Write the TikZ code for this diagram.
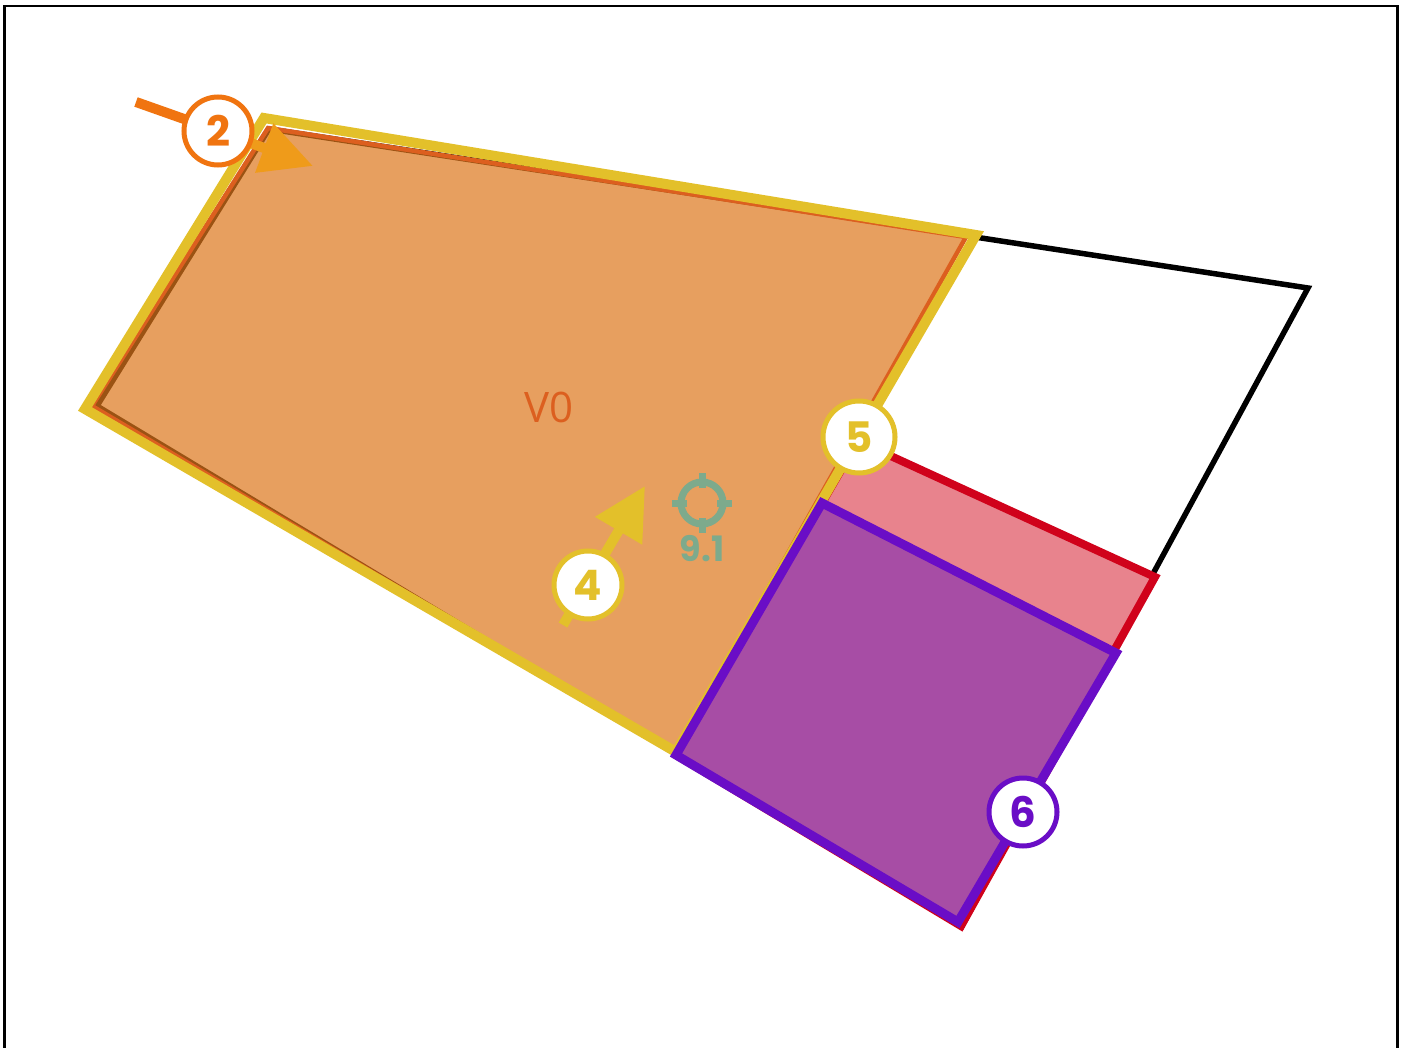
\documentclass[tikz,border=0pt]{standalone}
\usepackage{fontspec}
\setmainfont{Open Sans}
\newfontfamily\badgefont{Poppins}[UprightFont=* SemiBold, BoldFont=* Bold]
\usetikzlibrary{arrows.meta}
\definecolor{ylw}{HTML}{E3C02A}
\definecolor{orstroke}{HTML}{DC5F1F}
\definecolor{orfill}{HTML}{DE771C}
\definecolor{pinkfill}{HTML}{E8838D}
\definecolor{redstroke}{HTML}{D0021B}
\definecolor{purfill}{HTML}{A74DA5}
\definecolor{purstroke}{HTML}{6A0DC6}
\definecolor{arrorange}{HTML}{F07410}
\definecolor{arrgold}{HTML}{EF9B1A}
\definecolor{sage}{HTML}{7DAA8C}
\tikzset{
  badge/.style={circle, draw=#1, fill=white, line width=5pt, minimum size=68pt, inner sep=0pt,
    text=#1, font=\badgefont\bfseries\fontsize{42}{42}\selectfont},
}
\begin{document}
\begin{tikzpicture}[x=1pt,y=-1pt]
\useasboundingbox (0,0) rectangle (1403,1048);
\fill[white] (0,0) rectangle (1403,1048);
% frame
\draw[line width=2.7pt] (4.7,1060) -- (4.7,6) -- (1397.5,6) -- (1397.5,1060);
% coordinates
\coordinate (b1) at (269,129);
\coordinate (b2) at (1308,288);
\coordinate (b3) at (962,926);
\coordinate (b4) at (97,406);
\coordinate (o1) at (268,128);
\coordinate (o2) at (966,237);
\coordinate (o3) at (676,752);
\coordinate (o4) at (92,406);
\coordinate (y1) at (264,118);
\coordinate (y2) at (976,235);
\coordinate (y3) at (676,752);
\coordinate (y4) at (85,409);
\coordinate (r1) at (858,441);
\coordinate (r2) at (1155,577);
\coordinate (r3) at (961,926);
\coordinate (r4) at (676,755);
\coordinate (p1) at (822,503);
\coordinate (p2) at (1116,653);
\coordinate (p3) at (958,922);
\coordinate (p4) at (676,755);
% black outline
\draw[line width=5.5pt, line join=miter] (b1) -- (b2) -- (b3) -- (b4) -- cycle;
% orange V0 polygon
\fill[orfill, fill opacity=0.7] (o1) -- (o2) -- (o3) -- (o4) -- cycle;
\draw[orstroke, line width=4.5pt, line join=miter] (o1) -- (o2) -- (o3) -- (o4) -- cycle;
% red polygon
\draw[redstroke, fill=pinkfill, line width=8pt, line join=miter] (r1) -- (r2) -- (r3) -- (r4) -- cycle;
% yellow outline
\draw[ylw, line width=10pt, line join=miter] (y1) -- (y2) -- (y3) -- (y4) -- cycle;
% purple polygon
\draw[purstroke, fill=purfill, line width=9pt, line join=miter] (p1) -- (p2) -- (p3) -- (p4) -- cycle;
% label V0
\node[text=orstroke, font=\fontsize{42}{42}\selectfont] (v0) at (549,407) {V0};
% crosshair
\coordinate (tc) at (702,503);
\draw[sage, line width=7pt] (tc) circle[radius=21];
\draw[sage, line width=7pt] ([yshift=-15]tc) -- ([yshift=-30]tc)
  ([yshift=15]tc) -- ([yshift=30]tc)
  ([xshift=-15]tc) -- ([xshift=-30]tc)
  ([xshift=15]tc) -- ([xshift=30]tc);
\node[text=sage, font=\badgefont\bfseries\fontsize{35}{35}\selectfont] (val) at (702,549) {9.1};
% arrow 2
\coordinate (a2s) at (136,102);
\coordinate (a2t) at (313,166);
\coordinate (c2) at (218,131);
\draw[arrgold, line width=10pt, -{Triangle[length=52pt,width=50pt]}] (c2) -- (a2t);
\draw[arrorange, line width=10pt] (a2s) -- (c2);
\node[badge=arrorange] (n2) at (c2) {2};
% arrow 4
\coordinate (a4s) at (563,625);
\coordinate (a4t) at (645,486);
\draw[ylw, line width=10pt, -{Triangle[length=52pt,width=52pt]}] (a4s) -- (a4t);
\node[badge=ylw] (n4) at (588,585) {4};
% badge 5
\node[badge=ylw, minimum size=72pt] (n5) at (859,437) {5};
% badge 6
\node[badge=purstroke] (n6) at (1023,812) {6};
\end{tikzpicture}
\end{document}
